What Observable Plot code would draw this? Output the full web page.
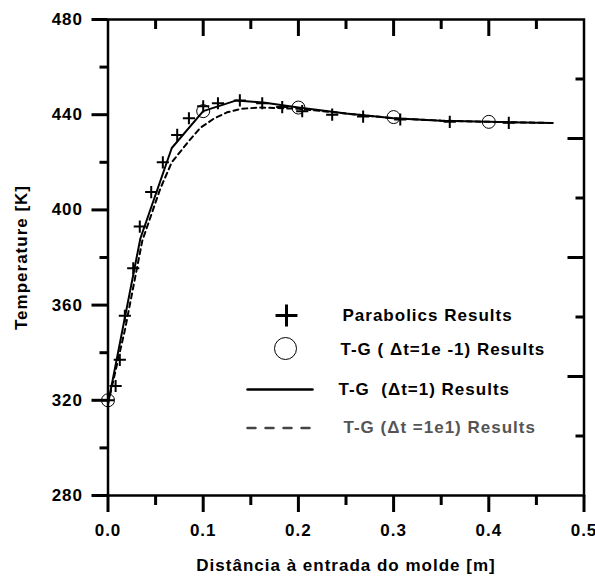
<!DOCTYPE html>
<html><head><meta charset="utf-8">
<script src="https://cdn.jsdelivr.net/npm/d3@7"></script>
<script src="https://cdn.jsdelivr.net/npm/@observablehq/plot@0.6"></script>
<style>body{margin:0;background:#fff}</style>
</head><body><div id="chart"></div>
<script>
// Parabolics results (+ markers)
const parabolicX = [0.0, 0.008, 0.0124, 0.0177, 0.0265, 0.0334, 0.0454, 0.0576, 0.0727, 0.085, 0.1, 0.1155, 0.1385, 0.162, 0.183, 0.204, 0.2355, 0.268, 0.307, 0.359, 0.421];
const parabolicY = [320, 326, 337, 355.5, 375.5, 393, 407.5, 420, 431.5, 438.5, 443.5, 444.8, 446, 444.8, 443.2, 441.5, 440, 439.2, 438, 437, 436.6];
// T-G (Δt=1e-1) results (circles)
const tg01X = [0.0, 0.1, 0.2, 0.3, 0.4];
const tg01Y = [320, 441.5, 443, 439, 437];
// T-G (Δt=1) results (solid line)
const tg1X = [0.0, 0.034, 0.067, 0.1, 0.135, 0.165, 0.2, 0.25, 0.3, 0.35, 0.4, 0.467];
const tg1Y = [318.5, 388, 426, 441.5, 446, 445, 443, 440.5, 438.5, 437.5, 437, 436.5];
// T-G (Δt=1e1) results (dashed line)
const tg10X = [0.0, 0.018, 0.036, 0.055, 0.067, 0.083, 0.097, 0.111, 0.125, 0.14, 0.16, 0.2, 0.25, 0.3, 0.35, 0.4, 0.467];
const tg10Y = [318.5, 350, 387, 409, 420, 428, 434.5, 438.3, 441, 442.5, 443, 442.5, 440.5, 438.5, 437.5, 437, 436.5];

const xMajorTicks = [0, 0.1, 0.2, 0.3, 0.4, 0.5];
const xMinorTicks = [0.05, 0.15, 0.25, 0.35, 0.45];
const xTopMajorTicks = [0.1, 0.2, 0.3, 0.4];
const yMajorTicks = [280, 320, 360, 400, 440, 480];
const yMinorTicks = [300, 340, 380, 420, 460];
const rightMajorTicks = [330, 380, 430];
const rightMinorTicks = [305, 355, 405, 455];

const legendLabels = ["Parabolics Results", "T-G ( \u0394t=1e -1) Results", "T-G  (\u0394t=1) Results", "T-G (\u0394t =1e1) Results"];
const xLabel = "Distância à entrada do molde [m]";
const yLabel = "Temperature [K]";

const parabolic = parabolicX.map((x, i) => ({x, y: parabolicY[i]}));
const tg01 = tg01X.map((x, i) => ({x, y: tg01Y[i]}));
const tg1 = tg1X.map((x, i) => ({x, y: tg1Y[i]}));
const tg10 = tg10X.map((x, i) => ({x, y: tg10Y[i]}));

const xMin = 0, yMin = 280;
const lineShape = {draw(context, l) { context.moveTo(0, 0); context.lineTo(0, -l); }};
const font = {fontSize: 17, fontWeight: "bold", fill: "black"};
const tickFont = {fontSize: 17, fontWeight: "bold", fill: "black"};

const chart = Plot.plot({
  width: 595,
  height: 577,
  marginLeft: 107.5,
  marginRight: 11.5,
  marginTop: 19,
  marginBottom: 82,
  style: {fontFamily: "'Liberation Sans', Arial, sans-serif", fontWeight: "bold", fontSize: "17px", letterSpacing: "1px"},
  x: {domain: [0, 0.5], label: null},
  y: {domain: [280, 480], label: null},
  marks: [
    Plot.frame({stroke: "black", strokeWidth: 2.5}),
    // left axis ticks
    Plot.axisY(yMajorTicks, {anchor: "left", tickSize: 16, strokeWidth: 3, fill: "none", label: null}),
    Plot.axisY(yMinorTicks, {anchor: "left", tickSize: 8, strokeWidth: 3, fill: "none", label: null}),
    // bottom axis ticks
    Plot.axisX(xMajorTicks, {anchor: "bottom", tickSize: 17, strokeWidth: 3, fill: "none", label: null}),
    Plot.axisX(xMinorTicks, {anchor: "bottom", tickSize: 10, strokeWidth: 3, fill: "none", label: null}),
    // right inner ticks
    Plot.axisY(rightMajorTicks, {anchor: "left", frameAnchor: "right", tickSize: 16, strokeWidth: 3, fill: "none", label: null}),
    Plot.axisY(rightMinorTicks, {anchor: "left", frameAnchor: "right", tickSize: 8, strokeWidth: 3, fill: "none", label: null}),
    // tick labels
    Plot.text(yMajorTicks, {x: () => xMin, y: d => d, dx: -25, text: d3.format("d"), textAnchor: "end", lineAnchor: "middle", ...tickFont}),
    Plot.text(xMajorTicks, {x: d => d, y: () => yMin, dy: 35, text: d3.format(".1f"), textAnchor: "middle", lineAnchor: "middle", ...tickFont}),
    // axis titles
    Plot.text([yLabel], {frameAnchor: "left", dx: -86, rotate: -90, text: d => d, textAnchor: "middle", lineAnchor: "middle", ...font}),
    Plot.text([xLabel], {frameAnchor: "bottom", dy: 70, text: d => d, textAnchor: "middle", lineAnchor: "middle", ...font}),
    // data
    Plot.line(tg10, {x: "x", y: "y", stroke: "black", strokeWidth: 2, strokeDasharray: "5,4"}),
    Plot.line(tg1, {x: "x", y: "y", stroke: "black", strokeWidth: 2}),
    Plot.dot(tg01, {x: "x", y: "y", r: 6.5, stroke: "black", strokeWidth: 1, fill: "none"}),
    Plot.dot(parabolic, {x: "x", y: "y", symbol: "plus", r: 4, stroke: "black", strokeWidth: 2}),
    // legend
    Plot.dot([legendLabels[0]], {frameAnchor: "top-left", dx: 178.5, dy: 296, symbol: "plus", r: 7.1, stroke: "black", strokeWidth: 3}),
    Plot.text([legendLabels[0]], {frameAnchor: "top-left", dx: 234.5, dy: 296, text: d => d, textAnchor: "start", lineAnchor: "middle", ...font}),
    Plot.dot([legendLabels[1]], {frameAnchor: "top-left", dx: 177.5, dy: 329, r: 11, stroke: "black", strokeWidth: 1, fill: "none"}),
    Plot.text([legendLabels[1]], {frameAnchor: "top-left", dx: 232.5, dy: 330, text: d => d, textAnchor: "start", lineAnchor: "middle", ...font}),
    Plot.vector([legendLabels[2]], {frameAnchor: "top-left", dx: 139.5, dy: 370, length: 65, rotate: 90, anchor: "start", shape: lineShape, stroke: "black", strokeWidth: 2.5}),
    Plot.text([legendLabels[2]], {frameAnchor: "top-left", dx: 230.5, dy: 370, text: d => d, textAnchor: "start", lineAnchor: "middle", ...font}),
    Plot.vector([legendLabels[3]], {frameAnchor: "top-left", dx: 139.5, dy: 408.5, length: 65, rotate: 90, anchor: "start", shape: lineShape, stroke: "#444", strokeWidth: 2.5, strokeDasharray: "8,10"}),
    Plot.text([legendLabels[3]], {frameAnchor: "top-left", dx: 235.5, dy: 408.5, text: d => d, textAnchor: "start", lineAnchor: "middle", fontSize: 17, fontWeight: "bold", fill: "#555"}),
    // top inner ticks (drawn last)
    Plot.ruleX(xTopMajorTicks, {x: d => d, insetBottom: 459, stroke: "black", strokeWidth: 3}),
    Plot.ruleX(xMinorTicks, {x: d => d, insetBottom: 466, stroke: "black", strokeWidth: 3})
  ]
});
document.getElementById("chart").appendChild(chart);
</script>
</body></html>
